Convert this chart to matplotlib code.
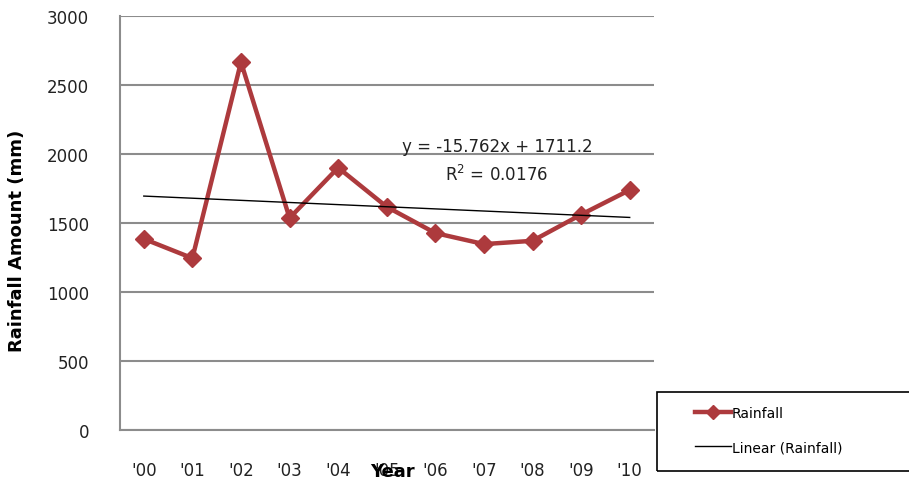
import numpy as np
import matplotlib
matplotlib.use("Agg")
import matplotlib.pyplot as plt
from matplotlib.patches import Rectangle

# Rainfall per year
years = ["'00", "'01", "'02", "'03", "'04", "'05", "'06", "'07", "'08", "'09", "'10"]
rainfall = [1385, 1245, 2666, 1536, 1901, 1617, 1427, 1347, 1371, 1561, 1739]
y_ticks = [0, 500, 1000, 1500, 2000, 2500, 3000]

red = '#AD3A3D'
grid_col = '#8C8C8C'
W, H = 909, 481

fig = plt.figure(figsize=(9.09, 4.81), dpi=100)
ax = fig.add_axes([119.5 / W, 50 / H, 534.5 / W, 414 / H])

x = np.arange(len(years))
ax.plot(x, rainfall, color=red, lw=3.2, marker='D', markersize=9,
        markeredgecolor=red, label='Rainfall', zorder=3)

# linear trend (Excel numbers x = 1..11)
coef = np.polyfit(x + 1, rainfall, 1)
ax.plot(x, np.polyval(coef, x + 1), color='black', lw=1, label='Linear (Rainfall)', zorder=4)

ax.set_xlim(-0.5, len(years) - 0.5)
ax.set_ylim(0, 3000)
ax.set_yticks(y_ticks)
ax.set_xticks(x)
ax.set_xticklabels(years)
ax.tick_params(axis='both', length=0, labelsize=12, colors='#222222')
ax.tick_params(axis='x', pad=22)
ax.tick_params(axis='y', pad=22)
ax.grid(axis='y', color=grid_col, lw=1.5)
ax.set_axisbelow(True)
for s in ['top', 'right']:
    ax.spines[s].set_visible(False)
for s in ['left', 'bottom']:
    ax.spines[s].set_color(grid_col)
    ax.spines[s].set_linewidth(1.5)

ax.set_ylabel('Rainfall Amount (mm)', fontsize=13, fontweight='bold')
ax.yaxis.set_label_coords(-93 / 534.5, 0.46)
fig.text(392 / W, 1 - 472 / H, 'Year', fontsize=13, fontweight='bold',
         ha='center', va='center')

fig.text(497 / W, 1 - 147 / H, 'y = -15.762x + 1711.2', fontsize=12,
         ha='center', va='center', color='#222222')
fig.text(497 / W, 1 - 175 / H, 'R$^2$ = 0.0176', fontsize=12,
         ha='center', va='center', color='#222222')

# legend box, runs off the right edge like the original
fig.patches.append(Rectangle((657 / W, 9 / H), 260 / W, 79 / H,
                             transform=fig.transFigure, fill=False,
                             edgecolor='black', lw=1.2))
handles, labels = ax.get_legend_handles_labels()
fig.legend(handles, labels, loc='center left', frameon=False, fontsize=10,
           bbox_to_anchor=(682 / W, 1 - 431 / H), handlelength=2.6,
           handletextpad=0.1, labelspacing=1.45, markerscale=0.8)

fig.savefig('out.png', dpi=100)
